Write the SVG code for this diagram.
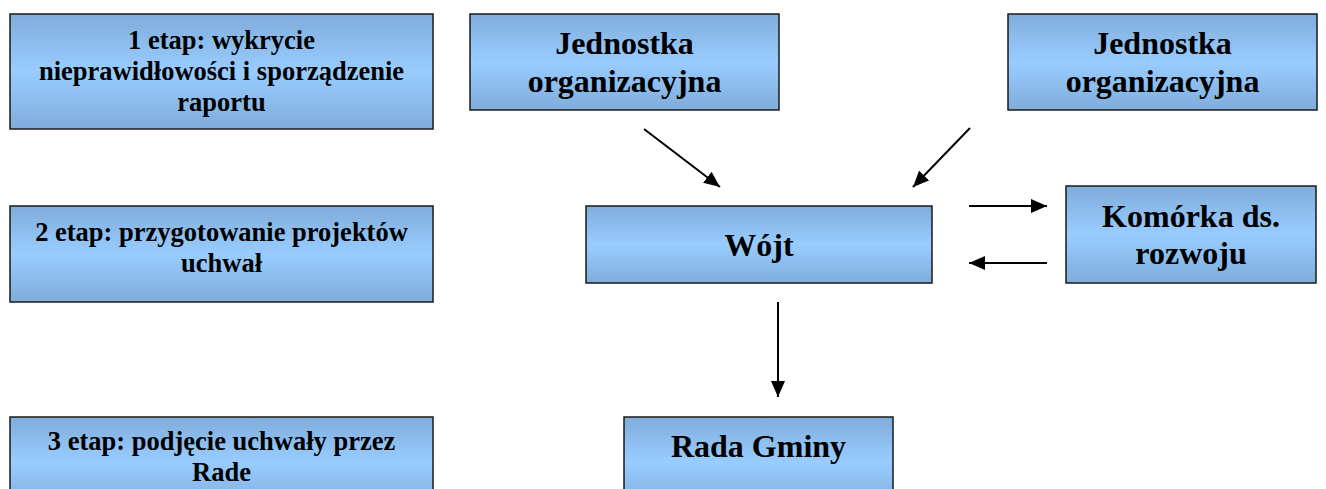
<svg xmlns="http://www.w3.org/2000/svg" width="1326" height="489" viewBox="0 0 1326 489">
<style>
.box{fill:url(#g);stroke:#1a1a1a;stroke-width:1.5}
.t{font-family:'Liberation Serif','Times New Roman',serif;font-weight:bold;fill:#000;text-anchor:middle}
.s{font-size:26.5px}
.b{font-size:32px}
.c{stroke:#000;stroke-width:2;fill:none;marker-end:url(#ah)}
</style>
<defs>
<linearGradient id="g" x1="0" y1="0" x2="0" y2="1">
<stop offset="0" stop-color="#7faddb"/>
<stop offset="0.5" stop-color="#99ccff"/>
<stop offset="1" stop-color="#7faddb"/>
</linearGradient>
<marker id="ah" markerUnits="userSpaceOnUse" markerWidth="16" markerHeight="14" refX="16" refY="7" orient="auto">
<path d="M0,0 L16,7 L0,14 z" fill="#000"/>
</marker>
</defs>
<rect width="1326" height="489" fill="#fff"/>
<g id="etap1">
<rect class="box" x="10" y="14" width="423" height="115"/>
<text class="t s" x="221.5" y="49">1 etap: wykrycie</text>
<text class="t s" x="221.5" y="80">nieprawidłowości i sporządzenie</text>
<text class="t s" x="221.5" y="111">raportu</text>
</g>
<g id="etap2">
<rect class="box" x="10" y="206" width="423" height="96"/>
<text class="t s" x="221.5" y="241">2 etap: przygotowanie projektów</text>
<text class="t s" x="221.5" y="272">uchwał</text>
</g>
<g id="etap3">
<rect class="box" x="10" y="417" width="423" height="90"/>
<text class="t s" x="221.5" y="450">3 etap: podjęcie uchwały przez</text>
<text class="t s" x="221.5" y="481">Rade</text>
</g>
<g id="jednostka1">
<rect class="box" x="470" y="14" width="309" height="96"/>
<text class="t b" x="624.5" y="54">Jednostka</text>
<text class="t b" x="624.5" y="92">organizacyjna</text>
</g>
<g id="jednostka2">
<rect class="box" x="1008" y="14" width="309" height="96"/>
<text class="t b" x="1162.5" y="54">Jednostka</text>
<text class="t b" x="1162.5" y="92">organizacyjna</text>
</g>
<g id="wojt">
<rect class="box" x="586" y="206" width="346" height="77"/>
<text class="t b" x="759" y="256">Wójt</text>
</g>
<g id="komorka">
<rect class="box" x="1066" y="186" width="250" height="97"/>
<text class="t b" x="1191" y="227">Komórka ds.</text>
<text class="t b" x="1191" y="264">rozwoju</text>
</g>
<g id="rada">
<rect class="box" x="624" y="417" width="269" height="90"/>
<text class="t b" x="758.5" y="457">Rada Gminy</text>
</g>
<g id="connectors">
<line class="c" x1="644" y1="129" x2="720" y2="187"/>
<line class="c" x1="970" y1="128" x2="913" y2="187"/>
<line class="c" x1="969" y1="206" x2="1047" y2="206"/>
<line class="c" x1="1047" y1="263" x2="969" y2="263"/>
<line class="c" x1="778" y1="302" x2="778" y2="397"/>
</g>
</svg>
